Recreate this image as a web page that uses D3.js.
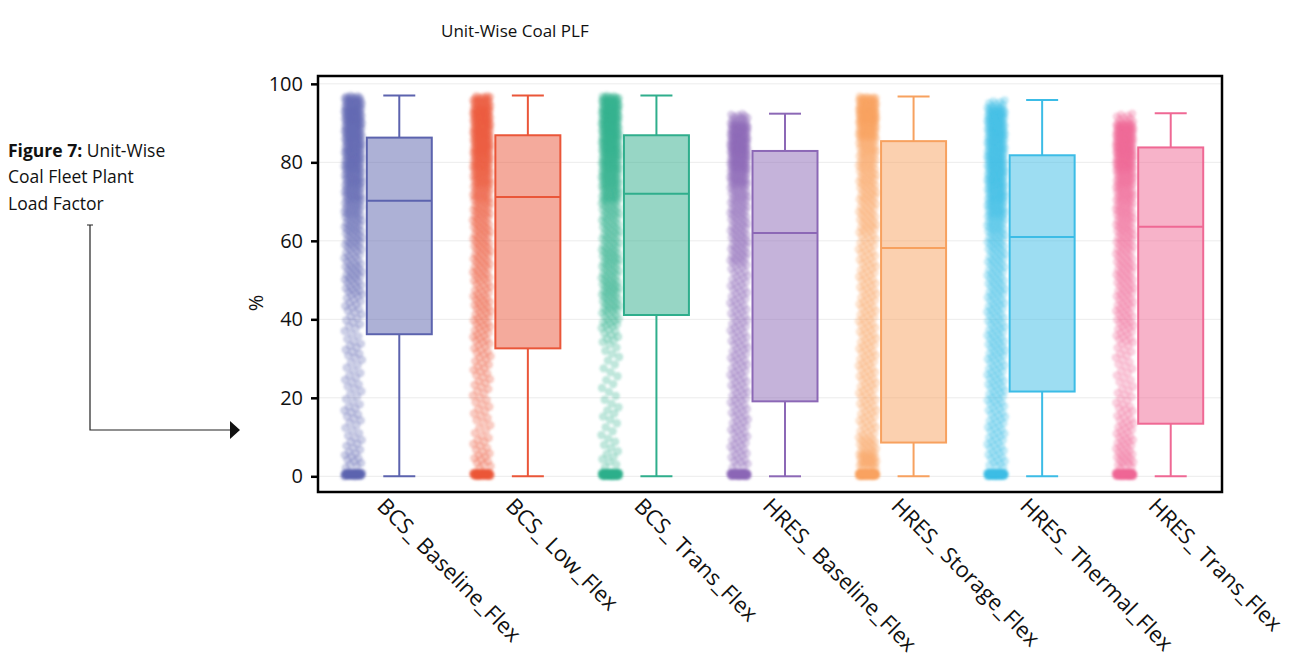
<!DOCTYPE html>
<html>
<head>
<meta charset="utf-8">
<script src="https://cdn.jsdelivr.net/npm/d3@7"></script>
<style>
  html, body { margin: 0; padding: 0; background: #fff; }
  svg { display: block; }
  text { font-family: "Open Sans", "Noto Sans", sans-serif; fill: #111; }
</style>
</head>
<body>
<svg id="chart" width="1306" height="666"></svg>
<script>
// Scenario names and axis labels
const categories = ["BCS_Baseline_Flex", "BCS_Low_Flex", "BCS_Trans_Flex",
  "HRES_Baseline_Flex", "HRES_Storage_Flex", "HRES_Thermal_Flex", "HRES_Trans_Flex"];
const xLabels = ["BCS_ Baseline_Flex", "BCS_ Low_Flex", "BCS_ Trans_Flex",
  "HRES_ Baseline_Flex", "HRES_ Storage_Flex", "HRES_ Thermal_Flex", "HRES_ Trans_Flex"];
const yTicks = [0, 20, 40, 60, 80, 100];

// Box statistics of unit PLF (%) per scenario
const whiskerLow  = [0, 0, 0, 0, 0, 0, 0];
const q1          = [36.2, 32.6, 41.1, 19.1, 8.6, 21.6, 13.4];
const median      = [70.2, 71.2, 72.0, 62.0, 58.2, 61.0, 63.6];
const q3          = [86.3, 86.9, 86.9, 82.9, 85.4, 81.8, 83.8];
const whiskerHigh = [97.0, 97.0, 97.0, 92.4, 96.8, 95.9, 92.5];

// Number of units falling in each 4-point PLF bin (bin centres below)
const binCenters = [0, 4, 8, 12, 16, 20, 24, 28, 32, 36, 40, 44, 48, 52, 56, 60, 64, 68, 72, 76, 80, 84, 88, 92, 96];
const unitsBCSBaseline  = [60, 10, 8, 6, 8, 6, 7, 6, 8, 6, 8, 10, 14, 16, 14, 18, 20, 24, 30, 34, 38, 40, 42, 45, 30];
const unitsBCSLow       = [60, 10, 8, 6, 7, 7, 8, 9, 10, 12, 13, 14, 13, 15, 16, 17, 18, 20, 25, 32, 38, 42, 44, 46, 28];
const unitsBCSTrans     = [90, 6, 5, 4, 5, 4, 4, 4, 5, 9, 14, 18, 20, 18, 20, 18, 18, 20, 32, 36, 40, 44, 46, 48, 34];
const unitsHRESBaseline = [70, 12, 12, 12, 12, 12, 12, 12, 12, 12, 12, 12, 12, 12, 18, 18, 18, 20, 22, 34, 44, 50, 48, 14, 0];
const unitsHRESStorage  = [100, 30, 18, 12, 12, 12, 12, 12, 12, 12, 12, 12, 12, 12, 12, 12, 16, 16, 18, 20, 22, 26, 46, 66, 38];
const unitsHRESThermal  = [80, 12, 12, 12, 12, 13, 13, 13, 14, 14, 14, 14, 15, 15, 16, 18, 22, 30, 34, 36, 38, 38, 40, 40, 8];
const unitsHRESTrans    = [85, 16, 14, 12, 10, 8, 7, 7, 8, 12, 14, 14, 15, 16, 16, 18, 20, 22, 26, 32, 46, 52, 52, 10, 0];
const unitCounts = [unitsBCSBaseline, unitsBCSLow, unitsBCSTrans, unitsHRESBaseline,
  unitsHRESStorage, unitsHRESThermal, unitsHRESTrans];

const colors = ["#5c63ae", "#ea5639", "#2fae8c", "#8c68b6", "#f7a15f", "#3cbce6", "#ef6894"];

const svg = d3.select("#chart");

// Plot frame
const plot = { left: 318, right: 1222, top: 76, bottom: 492 };

const x = d3.scaleBand().domain(categories).range([plot.left + 2, plot.right - 2]);
const y = d3.scaleLinear().domain([-4, 102]).range([plot.bottom, plot.top]);

const defs = svg.append("defs");
defs.append("filter").attr("id", "soft")
  .attr("x", "-20%").attr("y", "-5%").attr("width", "140%").attr("height", "110%")
  .append("feGaussianBlur").attr("stdDeviation", 1.3);
defs.append("clipPath").attr("id", "plotClip")
  .append("rect").attr("x", plot.left).attr("y", plot.top)
  .attr("width", plot.right - plot.left).attr("height", plot.bottom - plot.top);

// Title
svg.append("text").attr("x", 441).attr("y", 37)
  .attr("font-size", 17).text("Unit-Wise Coal PLF");

// Side caption
const capSize = 17.5;
const cap = svg.append("text").attr("x", 8).attr("y", 157).attr("font-size", capSize);
cap.append("tspan").attr("font-weight", "bold").text("Figure 7:");
cap.append("tspan").text(" Unit-Wise");
svg.append("text").attr("x", 8).attr("y", 183).attr("font-size", capSize).text("Coal Fleet Plant");
svg.append("text").attr("x", 8).attr("y", 210).attr("font-size", capSize).text("Load Factor");

// Connector arrow
svg.append("path")
  .attr("d", "M87,225 H93 M90,225 V430 H231")
  .attr("fill", "none").attr("stroke", "#222").attr("stroke-width", 1.2);
svg.append("path")
  .attr("d", "M230,421 L240,430 L230,439 Z")
  .attr("fill", "#111");

// Gridlines
svg.append("g").selectAll("line").data(yTicks).join("line")
  .attr("x1", plot.left).attr("x2", plot.right)
  .attr("y1", d => y(d)).attr("y2", d => y(d))
  .attr("stroke", "#ececec").attr("stroke-width", 1);

const boxOffset = 15, boxHalf = 32.5, capHalf = 16;
const stripOffset = -31, stripHalf = 9;

// Jittered unit points
const pts = svg.append("g").attr("clip-path", "url(#plotClip)")
  .append("g").attr("filter", "url(#soft)");
categories.forEach((cat, ci) => {
  const cx = x(cat) + x.bandwidth() / 2 + stripOffset;
  const values = [];
  unitCounts[ci].forEach((n, bi) => {
    const c = binCenters[bi];
    const lo = c === 0 ? 0 : c - 2;
    const hi = c === 0 ? 1 : Math.min(c + 2, whiskerHigh[ci]);
    for (let k = 0; k < n; k++) values.push({ v: lo + (k + 0.5) / n * (hi - lo), k: values.length });
  });
  pts.selectAll(null).data(values).join("circle")
    .attr("cx", d => cx + (((d.k * 0.618034 + ci * 0.29) % 1) - 0.5) * 2 * stripHalf)
    .attr("cy", d => y(d.v))
    .attr("r", 4.2)
    .attr("fill", colors[ci])
    .attr("fill-opacity", 0.3);
});

// Boxes and whiskers
const boxes = svg.append("g");
categories.forEach((cat, ci) => {
  const bx = x(cat) + x.bandwidth() / 2 + boxOffset;
  const g = boxes.append("g").attr("stroke", colors[ci]).attr("stroke-width", 2);
  g.append("line").attr("x1", bx).attr("x2", bx)
    .attr("y1", y(whiskerLow[ci])).attr("y2", y(q1[ci]));
  g.append("line").attr("x1", bx).attr("x2", bx)
    .attr("y1", y(q3[ci])).attr("y2", y(whiskerHigh[ci]));
  g.append("line").attr("x1", bx - capHalf).attr("x2", bx + capHalf)
    .attr("y1", y(whiskerLow[ci])).attr("y2", y(whiskerLow[ci]));
  g.append("line").attr("x1", bx - capHalf).attr("x2", bx + capHalf)
    .attr("y1", y(whiskerHigh[ci])).attr("y2", y(whiskerHigh[ci]));
  g.append("rect").attr("x", bx - boxHalf).attr("width", boxHalf * 2)
    .attr("y", y(q3[ci])).attr("height", y(q1[ci]) - y(q3[ci]))
    .attr("fill", colors[ci]).attr("fill-opacity", 0.5);
  g.append("line").attr("x1", bx - boxHalf).attr("x2", bx + boxHalf)
    .attr("y1", y(median[ci])).attr("y2", y(median[ci]));
});

// Frame
svg.append("rect").attr("x", plot.left).attr("y", plot.top)
  .attr("width", plot.right - plot.left).attr("height", plot.bottom - plot.top)
  .attr("fill", "none").attr("stroke", "#000").attr("stroke-width", 2.5);

// Y axis
const yAxis = svg.append("g").attr("transform", `translate(${plot.left},0)`)
  .call(d3.axisLeft(y).tickValues(yTicks).tickSize(7).tickPadding(8));
yAxis.select(".domain").remove();
yAxis.selectAll(".tick line").attr("stroke", "#000").attr("stroke-width", 2.5);
yAxis.selectAll(".tick text").attr("font-size", 20).attr("fill", "#111")
  .style("font-family", "'Open Sans', sans-serif");

svg.append("text")
  .attr("transform", `translate(263,303) rotate(-90)`)
  .attr("text-anchor", "middle").attr("font-size", 20).text("%");

// X tick labels
svg.append("g").selectAll("text").data(categories).join("text")
  .attr("transform", d => `translate(${x(d) + x.bandwidth() / 2 + 4},${plot.bottom + 3}) rotate(45)`)
  .attr("dy", "0.8em")
  .attr("font-size", 22)
  .text((d, i) => xLabels[i]);
</script>
</body>
</html>
